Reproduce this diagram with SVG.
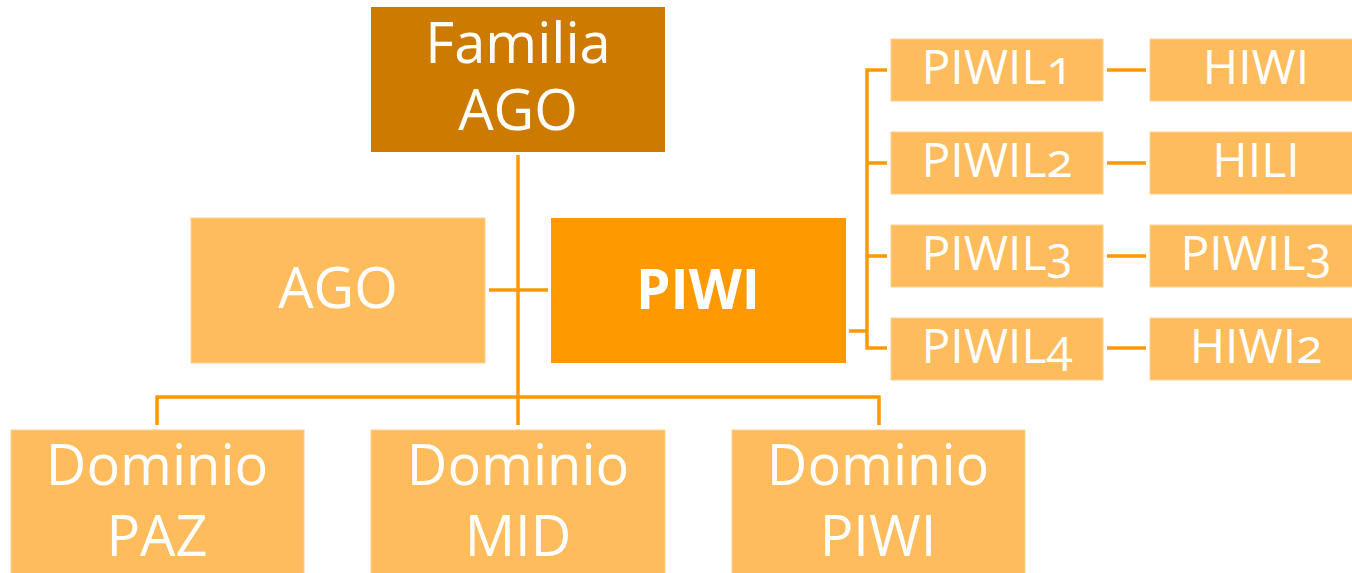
<svg xmlns="http://www.w3.org/2000/svg" width="1352" height="573" viewBox="0 0 1352 573">
<style>
.t{font-family:"Open Sans","Noto Sans",sans-serif;fill:#fff;text-anchor:middle;font-feature-settings:"onum" 1;font-variant-numeric:oldstyle-nums}
.l{fill:#FFBC5C;stroke:#FFD28F;stroke-width:1}
.c{fill:none;stroke:#FF9900;stroke-width:3.5}
</style>
<rect width="1352" height="573" fill="#fff"/>
<g id="connectors">
<path class="c" d="M518 155V425M489 290H548M157 425V397H879V425"/>
<path class="c" d="M849 331H867M887 70H867V348H887M867 163H887M867 256H887"/>
<path class="c" d="M1107 70H1146M1107 163H1146M1107 256H1146M1107 348H1146"/>
</g>
<g id="familia"><rect x="371" y="7" width="294" height="145" fill="#CC7A00"/><text class="t" font-size="56" x="518" y="63">Familia</text><text class="t" font-size="56" x="518" y="130">AGO</text></g>
<g id="ago"><rect class="l" x="191" y="218" width="294" height="145"/><text class="t" font-size="56" x="338" y="308">AGO</text></g>
<g id="piwi"><rect x="551" y="218" width="295" height="145" fill="#FF9900"/><text class="t" font-size="55" font-weight="bold" x="698" y="309">PIWI</text></g>
<g id="piwil1"><rect class="l" x="891" y="39" width="212" height="62"/><text class="t" font-size="48" x="997" y="84">PIWIL1</text></g>
<g id="piwil2"><rect class="l" x="891" y="132" width="212" height="62"/><text class="t" font-size="48" x="997" y="177">PIWIL2</text></g>
<g id="piwil3"><rect class="l" x="891" y="225" width="212" height="62"/><text class="t" font-size="48" x="997" y="270">PIWIL3</text></g>
<g id="piwil4"><rect class="l" x="891" y="318" width="212" height="62"/><text class="t" font-size="48" x="997" y="363">PIWIL4</text></g>
<g id="hiwi"><rect class="l" x="1150" y="39" width="212" height="62"/><text class="t" font-size="48" x="1256" y="84">HIWI</text></g>
<g id="hili"><rect class="l" x="1150" y="132" width="212" height="62"/><text class="t" font-size="48" x="1256" y="177">HILI</text></g>
<g id="piwil3b"><rect class="l" x="1150" y="225" width="212" height="62"/><text class="t" font-size="48" x="1256" y="270">PIWIL3</text></g>
<g id="hiwi2"><rect class="l" x="1150" y="318" width="212" height="62"/><text class="t" font-size="48" x="1256" y="363">HIWI2</text></g>
<g id="paz"><rect class="l" x="11" y="430" width="293" height="150"/><text class="t" font-size="56" x="157" y="485">Dominio</text><text class="t" font-size="56" x="157" y="556">PAZ</text></g>
<g id="mid"><rect class="l" x="371" y="430" width="294" height="150"/><text class="t" font-size="56" x="518" y="485">Dominio</text><text class="t" font-size="56" x="518" y="556">MID</text></g>
<g id="dpiwi"><rect class="l" x="732" y="430" width="293" height="150"/><text class="t" font-size="56" x="878" y="485">Dominio</text><text class="t" font-size="56" x="878" y="556">PIWI</text></g>
</svg>
